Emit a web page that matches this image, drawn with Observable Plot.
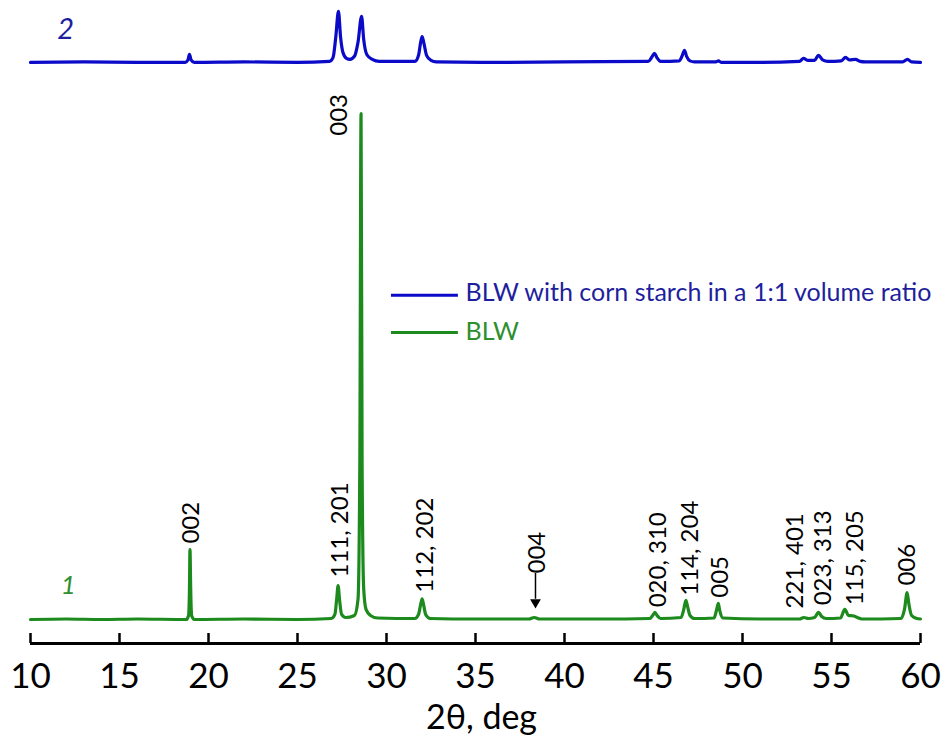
<!DOCTYPE html>
<html><head><meta charset="utf-8">
<script src="https://cdn.jsdelivr.net/npm/d3@7"></script>
<script src="https://cdn.jsdelivr.net/npm/@observablehq/plot@0.6"></script>
<style>body{margin:0;background:#fff} svg{display:block}</style>
</head><body><div id="chart"></div>
<script>
// XRD pattern of BLW (trace 1), intensity in arbitrary units
const greenTrace = [
  [10,0],[12,1],[14,0],[16,1],[18.75,0],[18.88,8],[18.93,60],[18.96,138],[19.0,60],[19.05,8],[19.2,0],
  [22,1],[25,0],[26.9,2],[27.1,10],[27.2,40],[27.28,67],[27.36,40],[27.48,10],[27.7,4],
  [28.2,8],[28.4,40],[28.5,300],[28.57,1000],[28.63,300],[28.72,60],[28.85,20],[29.1,8],[29.5,3],
  [31.6,2],[31.8,10],[31.92,30],[32.0,41],[32.08,30],[32.2,10],[32.45,2],
  [35,1],[38.0,1],[38.3,4],[38.6,1],[42,1],
  [44.8,2],[44.95,8],[45.08,14],[45.2,8],[45.4,2],
  [46.55,4],[46.7,20],[46.82,38],[46.9,28],[47.05,8],[47.3,2],
  [48.4,3],[48.55,20],[48.64,32],[48.72,18],[48.9,3],
  [51,1],[53.2,1],[53.45,4],[53.7,2],[54.05,4],[54.27,14],[54.45,6],[54.7,2],
  [55.5,3],[55.75,20],[55.95,8],[56.25,7],[56.45,4],[56.7,1],
  [58.9,2],[59.1,20],[59.25,53],[59.35,30],[59.5,8],[59.8,2],[60,1]
];
// BLW with corn starch (trace 2), same units, drawn above trace 1
const blueTrace = [
  [10,0],[13,1],[16,0],[18.7,0],[18.85,5],[18.93,16],[19.02,5],[19.2,0],
  [22,1],[25,0],[26.8,2],[27.0,10],[27.15,50],[27.3,101],[27.42,50],[27.55,20],[27.75,8],[27.95,6],
  [28.2,12],[28.4,40],[28.6,91],[28.72,45],[28.9,15],[29.2,6],[29.6,2],
  [31.6,2],[31.8,14],[31.92,40],[32.0,51],[32.1,38],[32.25,14],[32.5,4],[32.8,1],
  [36,0],[40,1],[44.7,2],[44.9,10],[45.06,18],[45.2,9],[45.4,2],
  [46.45,3],[46.6,12],[46.74,24],[46.86,12],[47.05,3],[47.3,1],
  [48.5,1],[48.65,3],[48.8,0],[51,0],
  [53.2,2],[53.43,8],[53.65,4],[54.05,4],[54.27,14],[54.5,5],[54.8,2],
  [55.55,3],[55.79,10],[56.0,5],[56.35,6],[56.6,2],[56.9,1],
  [59.0,1],[59.27,6],[59.5,1],[60,0]
];
const blueOffset = 1101;

// Miller-index labels
const labelText = ["002","111, 201","003","112, 202","004","020, 310","114, 204","005","221, 401","023, 313","115, 205","006"];
const labelX    = [19.05, 27.42, 27.36, 32.19, 38.48, 45.28, 47.08, 48.76, 52.98, 54.55, 56.35, 59.27];
const labelY    = [150, 83, 956, 53, 91, 24, 47, 43, 22, 28, 28, 67];
const peakLabels = labelText.map((t, i) => ({t, x: labelX[i], y: labelY[i]}));

// arrow pointing at the weak 004 reflection
const arrowX = [38.37];
const arrowTop = 91, arrowBottom = 40, arrowTip = 34;

const xTicks = [10,15,20,25,30,35,40,45,50,55,60];

const seriesNames = ["BLW with corn starch in a 1:1 volume ratio", "BLW"];
const seriesColors = ["#0a0ac8", "#1c8a1c"];
const textColors = ["#1f1f9e", "#2f8f2f"];
const legendY = [641, 567];
const legendTextY = [630, 552];

const yMin = -47.4, yMax = 1223.3;

const plot = Plot.plot({
  width: 947, height: 742,
  marginLeft: 30, marginRight: 27, marginTop: 0, marginBottom: 99,
  style: {fontFamily: "Lato, sans-serif", background: "#fff"},
  x: {domain: [10, 60]},
  y: {domain: [yMin, yMax], axis: null},
  marks: [
    Plot.ruleY([yMin], {stroke: "#000", strokeWidth: 3}),
    Plot.axisX({ticks: xTicks, tickSize: -10, tickPadding: 29.5, fontSize: 35, strokeWidth: 2.5, tickFormat: d => String(d), label: null, color: "#000"}),
    Plot.text(["2θ, deg"], {frameAnchor: "bottom", dx: 6, dy: 85, lineAnchor: "bottom", fontSize: 34, fill: "#000"}),
    Plot.line(blueTrace, {x: d => d[0], y: d => d[1] + blueOffset, stroke: seriesColors[0], strokeWidth: 3.2, curve: "monotone-x"}),
    Plot.line(greenTrace, {x: d => d[0], y: d => d[1], stroke: seriesColors[1], strokeWidth: 3.2, curve: "monotone-x"}),
    Plot.text(peakLabels, {x: "x", y: "y", text: "t", rotate: -90, textAnchor: "start", lineAnchor: "middle", fontSize: 24, fill: "#000"}),
    Plot.ruleX(arrowX, {y1: arrowTop, y2: arrowBottom, stroke: "#000", strokeWidth: 1.5}),
    Plot.dot(arrowX, {x: d => d, y: arrowTip, symbol: "triangle", rotate: 180, r: 4, fill: "#000", stroke: null}),
    Plot.text(["2"], {x: 11.97, y: 1148, lineAnchor: "bottom", fontSize: 29, fontStyle: "italic", fill: textColors[0]}),
    Plot.text(["1"], {x: 12.13, y: 51, lineAnchor: "bottom", fontSize: 26, fontStyle: "italic", fill: textColors[1]}),
    Plot.ruleY([0, 1], {x1: 30.28, x2: 34.04, y: i => legendY[i], stroke: i => seriesColors[i], strokeWidth: 3}),
    Plot.text([0, 1], {x: 34.44, y: i => legendTextY[i], text: i => seriesNames[i], textAnchor: "start", lineAnchor: "bottom", fontSize: 25, fill: i => textColors[i]})
  ]
});
document.getElementById("chart").appendChild(plot);
</script>
</body></html>
